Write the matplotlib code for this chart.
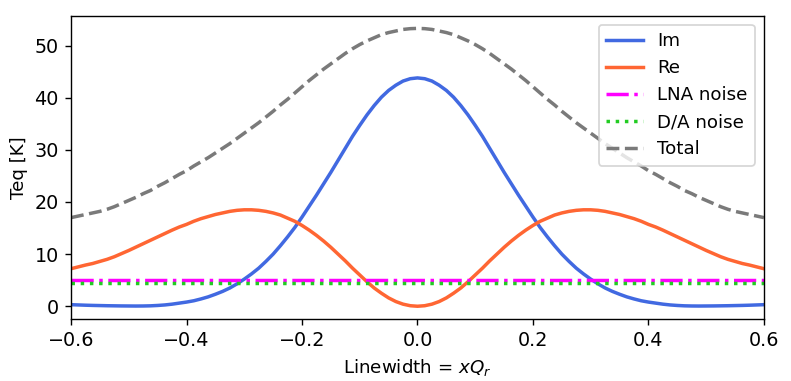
import numpy as np
import matplotlib
matplotlib.use('Agg')
import matplotlib.pyplot as plt

plt.rcParams['font.size'] = 10.5

# values, x from -0.6 to 0.6 in steps of 0.0125
x = np.linspace(-0.6, 0.6, 97)

im = [0.3, 0.25, 0.2, 0.16, 0.13, 0.1, 0.08, 0.06, 0.05, 0.04,
      0.05, 0.08, 0.15, 0.25, 0.4, 0.6, 0.8, 1.05, 1.4, 1.8,
      2.3, 2.85, 3.5, 4.3, 5.2, 6.2, 7.3, 8.6, 10.0, 11.6,
      13.3, 15.1, 17.1, 19.2, 21.3, 23.5, 25.7, 28.0, 30.3, 32.6,
      34.7, 36.7, 38.5, 40.1, 41.4, 42.4, 43.2, 43.65,
      43.8,
      43.65, 43.2, 42.4, 41.4, 40.1, 38.5, 36.7, 34.7,
      32.6, 30.3, 28.0, 25.7, 23.5, 21.3, 19.2, 17.1, 15.1, 13.3,
      11.6, 10.0, 8.6, 7.3, 6.2, 5.2, 4.3, 3.5, 2.85, 2.3,
      1.8, 1.4, 1.05, 0.8, 0.6, 0.4, 0.25, 0.15, 0.08, 0.05,
      0.04, 0.05, 0.06, 0.08, 0.1, 0.13, 0.16, 0.2, 0.25, 0.3]

re = [7.2, 7.55, 7.9, 8.2, 8.6, 9.0, 9.5, 10.1, 10.7, 11.35,
      12.0, 12.65, 13.3, 13.95, 14.6, 15.2, 15.7, 16.3, 16.8, 17.2,
      17.6, 17.9, 18.2, 18.4, 18.5, 18.5, 18.4, 18.2, 17.9, 17.5,
      16.9, 16.3, 15.5, 14.6, 13.6, 12.5, 11.3, 10.0, 8.7, 7.3,
      6.0, 4.7, 3.5, 2.5, 1.6, 0.9, 0.4, 0.1,
      0.0,
      0.1, 0.4, 0.9, 1.6, 2.5, 3.5, 4.7, 6.0,
      7.3, 8.7, 10.0, 11.3, 12.5, 13.6, 14.6, 15.5, 16.3, 16.9,
      17.5, 17.9, 18.2, 18.4, 18.5, 18.5, 18.4, 18.2, 17.9, 17.6,
      17.2, 16.8, 16.3, 15.7, 15.2, 14.6, 13.95, 13.3, 12.65, 12.0,
      11.35, 10.7, 10.1, 9.5, 9.0, 8.6, 8.2, 7.9, 7.55, 7.2]

total = [17.0, 17.3, 17.6, 17.9, 18.2, 18.6, 19.1, 19.7, 20.3, 20.9,
         21.6, 22.2, 23.0, 23.7, 24.5, 25.3, 26.0, 26.9, 27.7, 28.5,
         29.4, 30.3, 31.2, 32.2, 33.2, 34.2, 35.2, 36.3, 37.4, 38.6,
         39.7, 40.9, 42.1, 43.3, 44.4, 45.5, 46.5, 47.5, 48.5, 49.4,
         50.2, 50.9, 51.5, 52.1, 52.5, 52.8, 53.1, 53.25,
         53.3,
         53.25, 53.1, 52.8, 52.5, 52.1, 51.5, 50.9, 50.2,
         49.4, 48.5, 47.5, 46.5, 45.5, 44.4, 43.3, 42.1, 40.9, 39.7,
         38.6, 37.4, 36.3, 35.2, 34.2, 33.2, 32.2, 31.2, 30.3, 29.4,
         28.5, 27.7, 26.9, 26.0, 25.3, 24.5, 23.7, 23.0, 22.2, 21.6,
         20.9, 20.3, 19.7, 19.1, 18.6, 18.2, 17.9, 17.6, 17.3, 17.0]

lna_noise = 5.1
da_noise = 4.4

fig = plt.figure(figsize=(791 / 125, 381 / 125), dpi=125)
ax = fig.add_axes([0.0898, 0.162, 0.876, 0.797])

ax.plot(x, im, color='#4169E1', lw=2, label='Im')
ax.plot(x, re, color='#FF6633', lw=2, label='Re')
ax.plot(x, np.full(len(x), lna_noise), color='#FF00FF', lw=2, ls='-.', label='LNA noise')
ax.plot(x, np.full(len(x), da_noise), color='#22CC22', lw=2, ls=':', label='D/A noise')
ax.plot(x, total, color='#7A7A7A', lw=2, ls='--', label='Total')

ax.set_xlim(-0.6, 0.6)
ax.set_ylim(-2.5, 55.75)
ax.set_xticks([-0.6, -0.4, -0.2, 0.0, 0.2, 0.4, 0.6])
ax.set_yticks([0, 10, 20, 30, 40, 50])
ax.tick_params(labelsize=11)
ax.set_xlabel('Linewidth = $xQ_r$')
ax.set_ylabel('Teq [K]')
ax.legend(loc='upper right')

fig.savefig('out.png', dpi=125)
